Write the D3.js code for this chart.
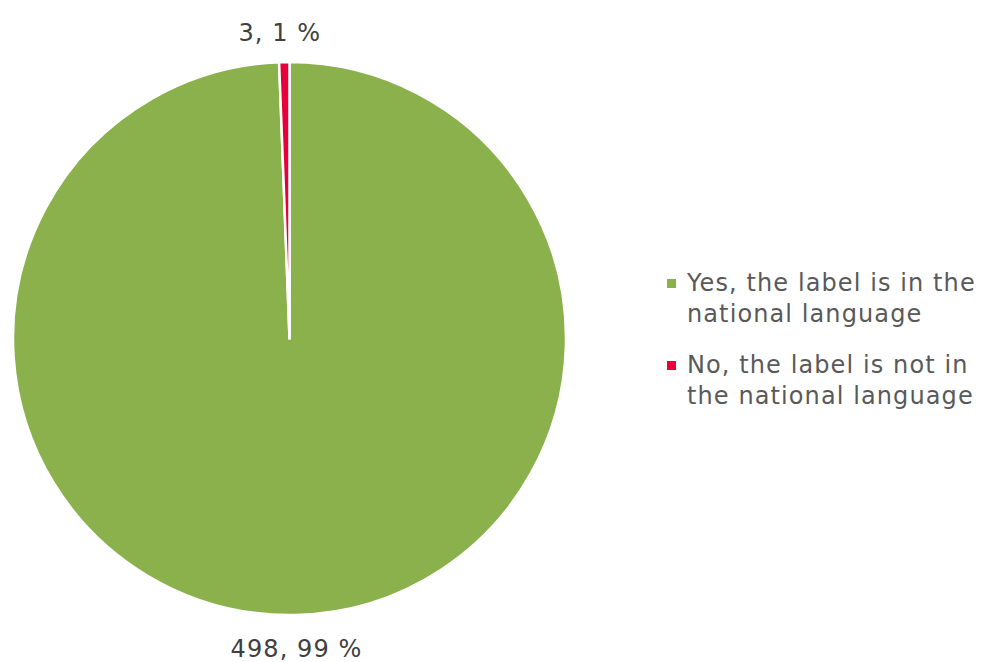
<!DOCTYPE html>
<html>
<head>
<meta charset="utf-8">
<script src="https://cdn.jsdelivr.net/npm/d3@7"></script>
<style>
  html, body { margin: 0; padding: 0; background: #fff; }
  svg { display: block; font-family: "DejaVu Sans", Verdana, sans-serif; }
</style>
</head>
<body>
<svg id="chart" width="983" height="662"></svg>
<script>
// Survey answers: is the label in the national language?
const categories = ["Yes, the label is in the national language", "No, the label is not in the national language"];
const legendLines = [["Yes, the label is in the", "national language"], ["No, the label is not in", "the national language"]];
const counts = [498, 3];
const percents = [99, 1];
const colors = ["#8BB14D", "#E8003D"];

const svg = d3.select("#chart");
const cx = 289.5, cy = 338.5, radius = 276.5;
const fontSize = 24, spacing = 1.1;

const pie = d3.pie().sort(null).value(d => d.count);
const data = categories.map((c, i) => ({ name: c, count: counts[i], pct: percents[i], color: colors[i] }));
const arcs = pie(data);
const arc = d3.arc().innerRadius(0).outerRadius(radius);

const g = svg.append("g").attr("transform", `translate(${cx},${cy})`);
g.selectAll("path")
  .data(arcs)
  .join("path")
  .attr("d", arc)
  .attr("fill", d => d.data.color)
  .attr("stroke", "#fff")
  .attr("stroke-width", 2.5)
  .attr("stroke-linejoin", "round");

// Data labels: large slice below the pie, small slice above it
const labelArc = d3.arc().innerRadius(radius + 26).outerRadius(radius + 26);
g.selectAll("text.lbl")
  .data(arcs)
  .join("text")
  .attr("class", "lbl")
  .attr("x", (d, i) => i === 0 ? 7 : labelArc.centroid(d)[0] - 4)
  .attr("y", (d, i) => i === 0 ? radius + 42 : -radius - 21)
  .attr("text-anchor", "middle")
  .attr("fill", "#404040")
  .attr("font-size", fontSize)
  .attr("letter-spacing", spacing)
  .text(d => `${d.data.count}, ${d.data.pct} %`);

// Legend
const legend = svg.append("g").attr("transform", "translate(667,0)");
const rows = legend.selectAll("g.row")
  .data(data)
  .join("g")
  .attr("class", "row")
  .attr("transform", (d, i) => `translate(0,${291 + i * 82})`);
rows.append("rect")
  .attr("x", 0).attr("y", -12)
  .attr("width", 9).attr("height", 9)
  .attr("fill", d => d.color);
rows.each(function(d, i) {
  const t = d3.select(this).append("text")
    .attr("fill", "#595959")
    .attr("font-size", fontSize)
    .attr("letter-spacing", spacing);
  legendLines[i].forEach((line, j) => {
    t.append("tspan").attr("x", 20).attr("y", j * 31).text(line);
  });
});
</script>
</body>
</html>
